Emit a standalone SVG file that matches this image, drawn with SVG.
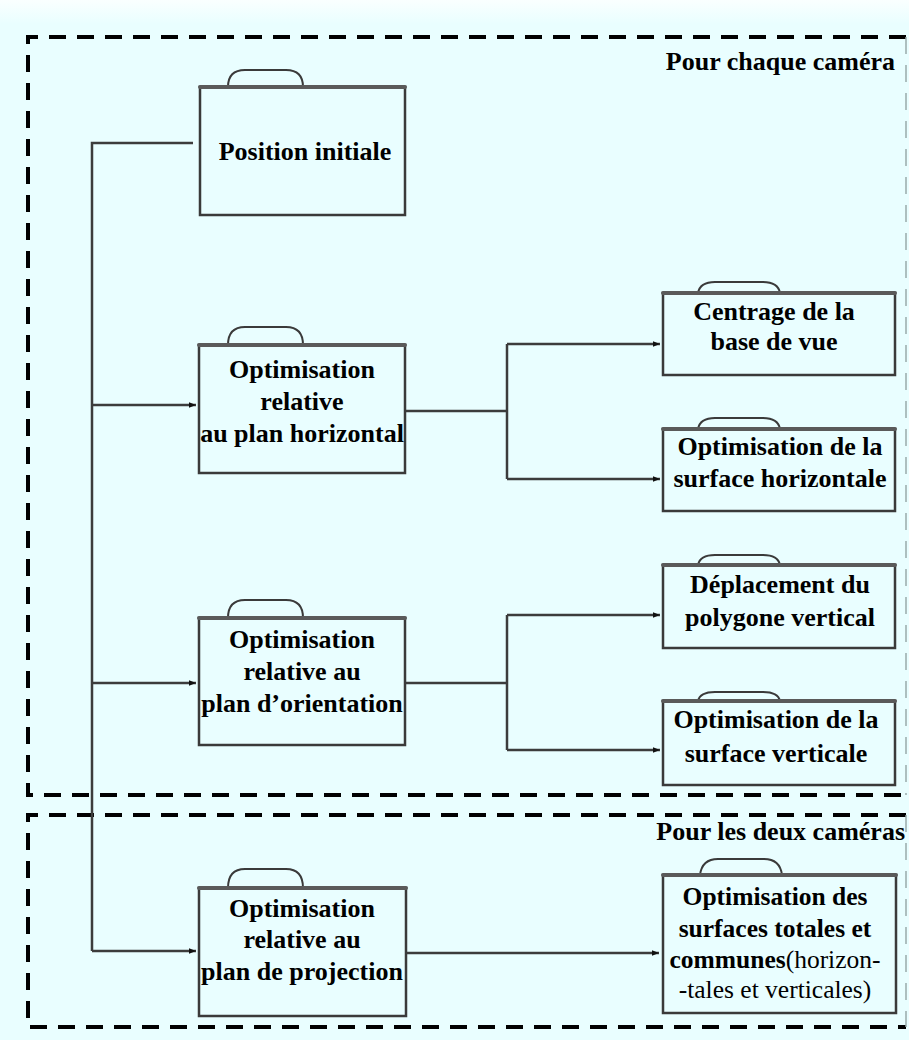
<svg xmlns="http://www.w3.org/2000/svg" width="909" height="1040" viewBox="0 0 909 1040">
<defs>
<linearGradient id="topfade" x1="0" y1="0" x2="0" y2="1">
<stop offset="0" stop-color="#FAFFFF"/>
<stop offset="1" stop-color="#E9FEFF"/>
</linearGradient>
<marker id="arr" viewBox="0 0 10 10" refX="10" refY="5" markerWidth="9" markerHeight="7" markerUnits="userSpaceOnUse" orient="auto">
<path d="M0,1 L10,5 L0,9 Z" fill="#111"/>
</marker>
<style>
.box{fill:none;stroke:#3a3a3a;stroke-width:2.5}
.bar{stroke:#5a5a5a;stroke-width:4;stroke-linecap:round}
.tab{fill:none;stroke:#3a3a3a;stroke-width:2}
.t{font-family:"Liberation Serif","Times New Roman",serif;font-weight:bold;font-size:26px;text-anchor:middle;fill:#000}
.s{font-size:25.5px}
.n{font-weight:normal}
.lbl{font-family:"Liberation Serif","Times New Roman",serif;font-weight:bold;font-size:26px;text-anchor:end;fill:#000}
.con{fill:none;stroke:#3c3c3c;stroke-width:2.5}
.dash{fill:none;stroke:#000;stroke-width:4;stroke-dasharray:17 11}
.dashr{fill:none;stroke:#9aa;stroke-width:1.5;stroke-dasharray:17 11}
</style>
</defs>
<rect x="0" y="0" width="909" height="1040" fill="#E9FEFF"/>
<rect x="0" y="0" width="909" height="24" fill="url(#topfade)"/>

<g id="frames">
<path class="dash" d="M906,37 H28 V795 H906"/>
<path class="dashr" d="M906,37 V795"/>
<path class="dash" d="M906,815 H28 V1027 H906"/>
<path class="dashr" d="M906,815 V1027"/>
<text class="lbl" x="895" y="70">Pour chaque caméra</text>
<text class="lbl" x="905" y="840">Pour les deux caméras</text>
</g>

<g id="connectors">
<path class="con" d="M193,143 H92 V951"/>
<path class="con" d="M92,405 H196" marker-end="url(#arr)"/>
<path class="con" d="M92,683 H196" marker-end="url(#arr)"/>
<path class="con" d="M92,951 H196" marker-end="url(#arr)"/>
<path class="con" d="M405,411 H507"/>
<path class="con" d="M507,344 V479"/>
<path class="con" d="M507,344 H660" marker-end="url(#arr)"/>
<path class="con" d="M507,479 H660" marker-end="url(#arr)"/>
<path class="con" d="M405,683 H507"/>
<path class="con" d="M507,615 V750"/>
<path class="con" d="M507,615 H660" marker-end="url(#arr)"/>
<path class="con" d="M507,750 H660" marker-end="url(#arr)"/>
<path class="con" d="M406,953 H659" marker-end="url(#arr)"/>
</g>

<g id="node-position">
<path class="tab" d="M228,87 Q228,70 245,70 H286 Q303,70 303,87"/>
<rect class="box" x="200" y="87" width="205" height="128"/>
<line class="bar" x1="200" y1="87" x2="405" y2="87"/>
<text class="t" x="305" y="160">Position initiale</text>
</g>

<g id="node-horizontal">
<path class="tab" d="M228,345 Q228,327 245,327 H286 Q303,327 303,345"/>
<rect class="box" x="199" y="345" width="206" height="128"/>
<line class="bar" x1="199" y1="345" x2="405" y2="345"/>
<text class="t" x="302" y="378">Optimisation</text>
<text class="t" x="302" y="410">relative</text>
<text class="t" x="302" y="442">au plan horizontal</text>
</g>

<g id="node-orientation">
<path class="tab" d="M228,618 Q228,600 245,600 H286 Q303,600 303,618"/>
<rect class="box" x="199" y="618" width="206" height="127"/>
<line class="bar" x1="199" y1="618" x2="405" y2="618"/>
<text class="t" x="302" y="648">Optimisation</text>
<text class="t" x="302" y="680">relative au</text>
<text class="t" x="302" y="712">plan d’orientation</text>
</g>

<g id="node-projection">
<path class="tab" d="M228,888 Q228,869 245,869 H286 Q303,869 303,888"/>
<rect class="box" x="199" y="888" width="207" height="128"/>
<line class="bar" x1="199" y1="888" x2="406" y2="888"/>
<text class="t" x="302" y="917">Optimisation</text>
<text class="t" x="302" y="948">relative au</text>
<text class="t" x="302" y="980">plan de projection</text>
</g>

<g id="node-centrage">
<path class="tab" d="M698,293 Q700,282 715,282 H763 Q778,282 780,293"/>
<rect class="box" x="663" y="293" width="232" height="82"/>
<line class="bar" x1="663" y1="293" x2="895" y2="293"/>
<text class="t" x="774" y="320">Centrage de la</text>
<text class="t" x="774" y="350">base de vue</text>
</g>

<g id="node-surf-h">
<path class="tab" d="M698,429 Q700,418 715,418 H763 Q778,418 780,429"/>
<rect class="box" x="663" y="429" width="232" height="82"/>
<line class="bar" x1="663" y1="429" x2="895" y2="429"/>
<text class="t" x="780" y="455">Optimisation de la</text>
<text class="t" x="780" y="487">surface horizontale</text>
</g>

<g id="node-deplacement">
<path class="tab" d="M698,565 Q700,555 715,555 H763 Q778,555 780,565"/>
<rect class="box" x="663" y="565" width="232" height="83"/>
<line class="bar" x1="663" y1="565" x2="895" y2="565"/>
<text class="t" x="780" y="593">Déplacement du</text>
<text class="t" x="780" y="626">polygone vertical</text>
</g>

<g id="node-surf-v">
<path class="tab" d="M698,701 Q700,692 715,692 H763 Q778,692 780,701"/>
<rect class="box" x="663" y="701" width="232" height="84"/>
<line class="bar" x1="663" y1="701" x2="895" y2="701"/>
<text class="t" x="776" y="728">Optimisation de la</text>
<text class="t" x="776" y="762">surface verticale</text>
</g>

<g id="node-totales">
<path class="tab" d="M700,875 Q702,859 718,859 H764 Q780,859 782,875"/>
<rect class="box" x="663" y="875" width="233" height="138"/>
<line class="bar" x1="663" y1="875" x2="896" y2="875"/>
<text class="t s" x="775" y="905">Optimisation des</text>
<text class="t s" x="775" y="937">surfaces totales et</text>
<text class="t s" x="775" y="968">communes<tspan class="n">(horizon-</tspan></text>
<text class="t s n" x="775" y="998">-tales et verticales)</text>
</g>
</svg>
